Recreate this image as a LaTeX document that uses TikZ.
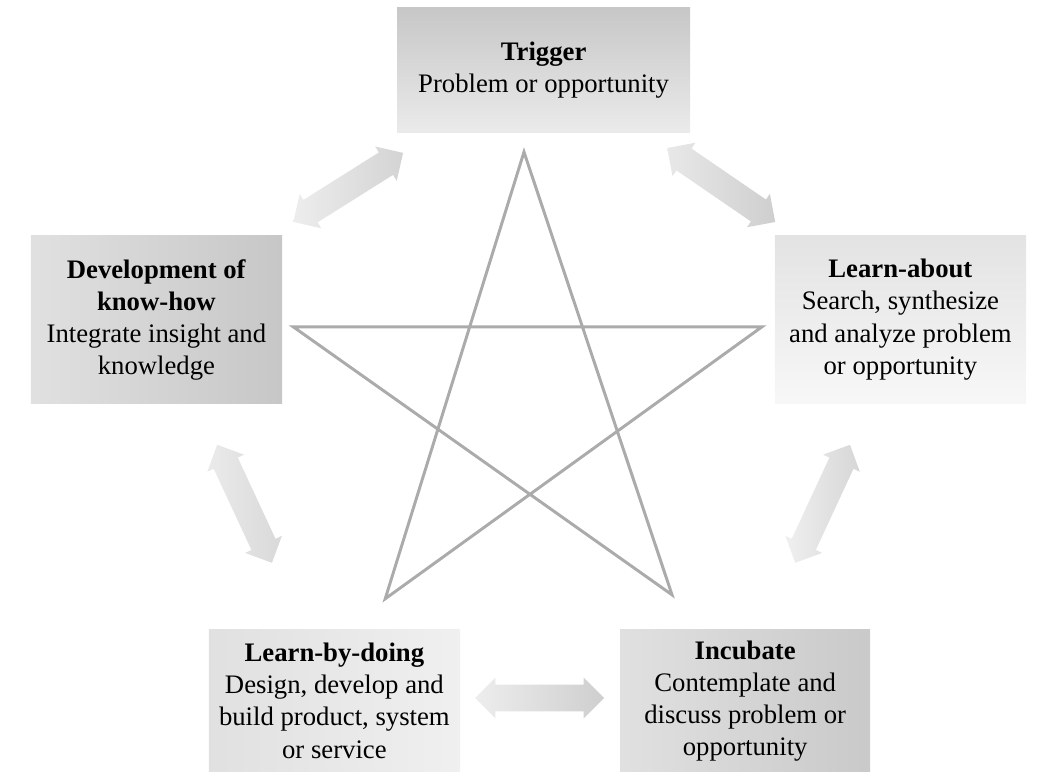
\documentclass[tikz,border=0pt]{standalone}
\usepackage{fontspec}
\setmainfont{Liberation Serif}
\usetikzlibrary{shapes.arrows}
\usetikzlibrary{calc}

% wide two-way arrow between two named points
\newcommand{\twoway}[5]{%
  \path let \p1=(#2), \p2=(#3),
    \n1={atan2(\y2-\y1,\x2-\x1)}, \n2={veclen(\x2-\x1,\y2-\y1)} in
    node[flow, rotate=\n1, minimum height=\n2, left color=#4, right color=#5]
      (#1) at ($(#2)!0.5!(#3)$) {};
}

\begin{document}
\begin{tikzpicture}[
    stage/.style={rectangle, inner sep=0pt, align=center,
      font=\fontsize{19}{22.8}\selectfont},
    flow/.style={double arrow, draw=none, inner sep=0pt,
      text height=0.65cm, text depth=0pt, double arrow head extend=0.175cm},
    starline/.style={draw=black!33, line width=2.1pt}
  ]
  \useasboundingbox (0,0) rectangle (26.2,19.3);

  % ---------- Boxes ----------
  \node[stage, minimum width=7.33cm, minimum height=3.13cm,
    top color=black!22, bottom color=black!8] at (13.59, 17.55) (trigger)
    {\textbf{Trigger}\\Problem or opportunity};
  \node[stage, minimum width=6.28cm, minimum height=4.18cm,
    left color=black!12, right color=black!22] at (3.91, 11.31) (knowhow)
    {\textbf{Development of}\\\textbf{know-how}\\Integrate insight and\\knowledge};
  \node[stage, minimum width=6.28cm, minimum height=4.18cm,
    top color=black!11, bottom color=black!3] at (22.51, 11.31) (learnabout)
    {\textbf{Learn-about}\\Search, synthesize\\and analyze problem\\or opportunity};
  \node[stage, minimum width=6.28cm, minimum height=3.55cm,
    left color=black!12, right color=black!6] at (8.36, 1.78) (learndoing)
    {\textbf{Learn-by-doing}\\Design, develop and\\build product, system\\or service};
  \node[stage, minimum width=6.25cm, minimum height=3.55cm,
    left color=black!12, right color=black!21] at (18.63, 1.78) (incubate)
    {\textbf{Incubate}\\Contemplate and\\discuss problem or\\opportunity};

  % ---------- Star ----------
  \coordinate (st) at (13.10, 15.50);
  \coordinate (sl) at (7.33, 11.13);
  \coordinate (sr) at (19.05, 11.13);
  \coordinate (sbl) at (9.63, 4.33);
  \coordinate (sbr) at (16.80, 4.43);
  \draw[starline] (st) -- (sbr) -- (sl) -- (sr) -- (sbl) -- cycle;

  % ---------- Arrows ----------
  \coordinate (tl1) at (7.33, 13.75);
  \coordinate (tl2) at (10.08, 15.48);
  \coordinate (tr1) at (16.68, 15.60);
  \coordinate (tr2) at (19.38, 13.75);
  \coordinate (ll1) at (5.43, 8.18);
  \coordinate (ll2) at (6.80, 5.23);
  \coordinate (rl1) at (19.88, 5.23);
  \coordinate (rl2) at (21.25, 8.18);
  \coordinate (bt1) at (11.88, 1.85);
  \coordinate (bt2) at (15.10, 1.85);

  \twoway{arrtl}{tl1}{tl2}{black!7}{black!17}
  \twoway{arrtr}{tr1}{tr2}{black!9}{black!19}
  \twoway{arrll}{ll1}{ll2}{black!8}{black!15}
  \twoway{arrrl}{rl1}{rl2}{black!6}{black!16}
  \twoway{arrbt}{bt1}{bt2}{black!7}{black!19}
\end{tikzpicture}
\end{document}
